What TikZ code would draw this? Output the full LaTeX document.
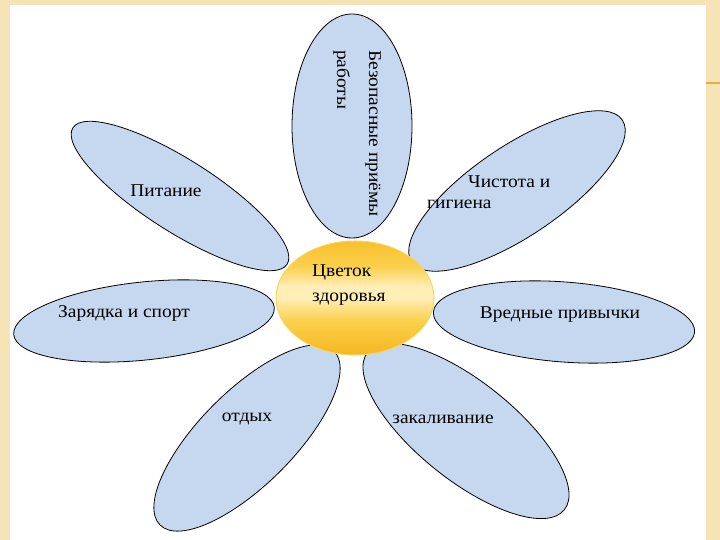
\documentclass[tikz,border=0pt]{standalone}
\usepackage{fontspec}
\setmainfont[FakeStretch=1.08]{Liberation Serif}
\usetikzlibrary{shapes.geometric}
\definecolor{petalfill}{RGB}{198,216,240}
\definecolor{frame}{RGB}{247,228,182}
\definecolor{frameline}{RGB}{232,172,80}
\definecolor{ctrtop}{RGB}{248,192,44}
\definecolor{ctryel}{RGB}{251,208,76}
\definecolor{ctrmid}{RGB}{255,238,182}
\definecolor{ctrbot}{RGB}{246,182,32}
\definecolor{ctredge}{RGB}{246,214,96}
\pgfdeclareverticalshading{ctrshade}{100bp}{
  color(0bp)=(ctrbot); color(25bp)=(ctrbot); color(40bp)=(ctryel);
  color(50bp)=(ctrmid); color(55bp)=(ctrmid); color(64bp)=(ctryel);
  color(75bp)=(ctrtop); color(100bp)=(ctrtop)}
\tikzset{
  petal/.style={ellipse, draw=black, line width=0.8pt, fill=petalfill, inner sep=0pt},
  lbl/.style={font=\fontsize{18}{21}\selectfont, text=black, inner sep=0pt},
}
\begin{document}
\begin{tikzpicture}[x=1pt,y=1pt]
\useasboundingbox (0,0) rectangle (720,540);
% slide background
\fill[frame] (0,0) rectangle (720,540);
\fill[white] (10,0) rectangle (706,535);
\draw[frameline, line width=1.2pt] (706,457) -- (720,457);
% petals
\node[petal, minimum width=224pt, minimum height=120pt, rotate=90] (p1) at (352,414) {};
\node[petal, minimum width=254pt, minimum height=72pt, rotate=-32.5] (p2) at (180,344) {};
\node[petal, minimum width=254pt, minimum height=90pt, rotate=34] (p3) at (517,349) {};
\node[petal, minimum width=262pt, minimum height=78pt, rotate=6] (p4) at (144,219) {};
\node[petal, minimum width=262pt, minimum height=80pt, rotate=-4.4] (p5) at (564,218) {};
\node[petal, minimum width=246pt, minimum height=94pt, rotate=45] (p6) at (247,102) {};
\node[petal, minimum width=252pt, minimum height=98pt, rotate=-38.7] (p7) at (466,109) {};
% centre
\node[ellipse, minimum width=158pt, minimum height=114pt, inner sep=0pt,
      shading=ctrshade, draw=ctredge, line width=1pt] (c) at (355,242) {};
% labels
\node[lbl, font=\fontsize{18}{32}\selectfont, align=left, anchor=west, rotate=-90] (t1) at (357,490) {Безопасные приёмы\\работы};
\node[lbl] (t2) at (166,349) {Питание};
\node[lbl, align=left, anchor=west] (t3) at (427,347.5) {\hspace*{41pt}Чистота и\\гигиена};
\node[lbl] (t4) at (124,227) {Зарядка и спорт};
\node[lbl] (t5) at (560,225) {Вредные привычки};
\node[lbl] (t6) at (247,121) {отдых};
\node[lbl] (t7) at (443,121) {закаливание};
\node[lbl, font=\fontsize{18}{25}\selectfont, align=left, anchor=west] (tc) at (312,254.5) {Цветок\\здоровья};
\end{tikzpicture}
\end{document}
